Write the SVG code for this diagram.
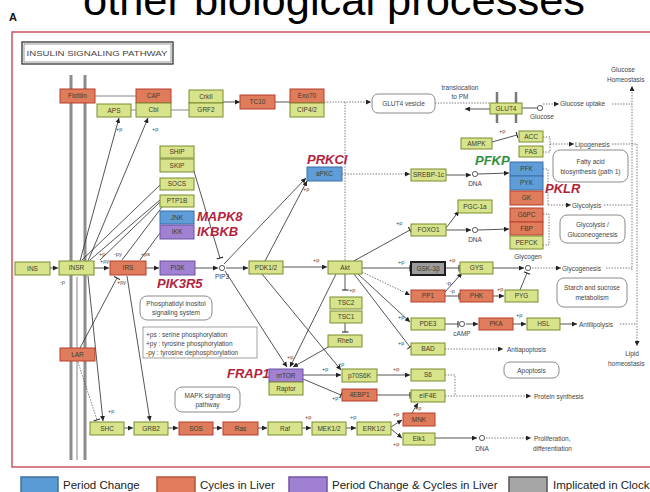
<svg xmlns="http://www.w3.org/2000/svg" width="650" height="492" viewBox="0 0 650 492">
<defs>
<style>
.g{fill:#d8e38b;stroke:#7b8b2e;stroke-width:1}
.o{fill:#df7c5c;stroke:#b83e2c;stroke-width:1}
.b{fill:#5f9dd9;stroke:#3c6fa8;stroke-width:1}
.p{fill:#a081d2;stroke:#6d53a5;stroke-width:1}
.k{fill:#9c9c9c;stroke:#1e1e1e;stroke-width:2}
.r{fill:#fff;stroke:#8a8a8a;stroke-width:1}
text{font-family:"Liberation Sans",Arial,sans-serif}
.t{font-size:6.5px;fill:#3d3d2c;text-anchor:middle}
.s{font-size:5.5px;fill:#444}
.a{font-size:6.5px;fill:#444}
.am{font-size:6.5px;fill:#444;text-anchor:middle}
.red{font-size:13px;font-weight:bold;font-style:italic;fill:#b3243c}
.c{stroke:#2a2a2a;stroke-width:0.8;fill:none}
.d{stroke:#555;stroke-width:0.8;fill:none;stroke-dasharray:1.4 1.4}
.m{stroke:#8c8c8c;stroke-width:3;fill:none}
.ci{fill:#fff;stroke:#333;stroke-width:0.8}
.lg{font-size:11.5px;fill:#222}
</style>
<marker id="a" viewBox="0 0 6 6" refX="6" refY="3" markerWidth="5" markerHeight="5" markerUnits="userSpaceOnUse" orient="auto"><path d="M0,0L6,3L0,6z" fill="#222"/></marker>
<marker id="t" viewBox="0 0 2 8" refX="1" refY="4" markerWidth="2" markerHeight="7" markerUnits="userSpaceOnUse" orient="auto"><path d="M1,0V8" stroke="#222" stroke-width="1.2"/></marker>
</defs>
<rect x="0" y="0" width="650" height="492" fill="#fff"/>
<text x="83" y="14.5" font-size="43" fill="#000" textLength="502" lengthAdjust="spacingAndGlyphs">other biological processes</text>
<text x="9" y="21" font-size="11" font-weight="bold" fill="#111">A</text>
<rect x="12" y="32" width="660" height="435" fill="none" stroke="#c9575f" stroke-width="1.5"/>
<g id="title-box">
<rect x="22" y="42" width="151" height="22" fill="#fff" stroke="#222" stroke-width="1.2"/>
<rect x="24" y="44" width="147" height="18" fill="none" stroke="#555" stroke-width="0.6"/>
<text x="26.5" y="56" font-size="8" fill="#444" textLength="141" lengthAdjust="spacingAndGlyphs">INSULIN SIGNALING PATHWAY</text>
</g>
<g id="membrane">
<line class="m" x1="71" y1="75" x2="71" y2="460"/>
<line class="m" x1="85" y1="75" x2="85" y2="460"/>
<line stroke="#999" stroke-width="1.2" x1="77" y1="277" x2="77" y2="460"/>
<line stroke="#7a7a7a" stroke-width="2.5" x1="497" y1="92" x2="497" y2="123"/>
<line stroke="#7a7a7a" stroke-width="2.5" x1="516" y1="92" x2="516" y2="123"/>
</g>
<g id="connectors">
<line stroke="#888" stroke-width="1" x1="95" y1="96" x2="136" y2="96"/>
<line stroke="#888" stroke-width="1" x1="131" y1="110" x2="136" y2="110"/>
<line stroke="#888" stroke-width="1" x1="171" y1="110" x2="189" y2="110"/>
<line class="c" x1="223" y1="102" x2="240" y2="102" marker-end="url(#a)"/>
<line class="c" x1="275" y1="102" x2="290" y2="102"/>
<line class="d" x1="324" y1="102" x2="371" y2="102" marker-end="url(#a)"/>
<line class="d" x1="345" y1="102" x2="345" y2="261"/>
<line class="d" x1="435" y1="103" x2="489" y2="103"/>
<line class="c" x1="490" y1="109" x2="465" y2="109" marker-end="url(#a)"/>
<line class="c" x1="522" y1="108" x2="537" y2="108"/>
<line class="d" x1="543" y1="104" x2="559" y2="104" marker-end="url(#a)"/>
<line class="d" x1="612" y1="104" x2="632" y2="104"/>
<line class="d" x1="632" y1="270" x2="632" y2="86" marker-end="url(#a)"/>
<line class="c" x1="492" y1="142" x2="517" y2="135" marker-end="url(#t)"/>
<polyline class="d" points="543,137 550,137 550,152 543,152"/>
<line class="d" x1="550" y1="144" x2="574" y2="144" marker-end="url(#a)"/>
<line class="d" x1="612" y1="144" x2="637" y2="144"/>
<line class="d" x1="637" y1="144" x2="637" y2="346" marker-end="url(#a)"/>
<line class="d" x1="342" y1="174" x2="410" y2="174" marker-end="url(#a)"/>
<line class="c" x1="446" y1="175" x2="471" y2="175" marker-end="url(#a)"/>
<line class="c" x1="478" y1="174" x2="509" y2="173" marker-end="url(#a)"/>
<polyline class="d" points="543,169 548,169 548,205"/>
<line class="d" x1="548" y1="205" x2="571" y2="205" marker-end="url(#a)"/>
<line class="d" x1="604" y1="205" x2="632" y2="205"/>
<polyline class="d" points="543,214 549,214 549,245 543,245"/>
<line class="c" x1="446" y1="230" x2="471" y2="230" marker-end="url(#a)"/>
<line class="c" x1="478" y1="230" x2="509" y2="229" marker-end="url(#a)"/>
<line class="c" x1="446" y1="228" x2="459" y2="211" marker-end="url(#a)"/>
<line class="c" x1="352" y1="262" x2="410" y2="230" marker-end="url(#t)"/>
<line class="c" x1="283" y1="267" x2="327" y2="267" marker-end="url(#a)"/>
<line class="c" x1="362" y1="268" x2="410" y2="268" marker-end="url(#t)"/>
<line class="c" x1="445" y1="268" x2="459" y2="268" marker-end="url(#t)"/>
<line class="d" x1="362" y1="272" x2="410" y2="295" marker-end="url(#a)"/>
<line class="c" x1="445" y1="292" x2="462" y2="273" marker-end="url(#a)"/>
<line class="c" x1="445" y1="296" x2="459" y2="296" marker-end="url(#t)"/>
<line class="c" x1="493" y1="296" x2="504" y2="296" marker-end="url(#a)"/>
<line class="c" x1="520" y1="290" x2="527" y2="273" marker-end="url(#t)"/>
<line class="c" x1="493" y1="268" x2="524" y2="268" marker-end="url(#a)"/>
<line class="d" x1="532" y1="268" x2="561" y2="268" marker-end="url(#a)"/>
<line class="d" x1="606" y1="268" x2="632" y2="268"/>
<line class="c" x1="358" y1="274" x2="410" y2="322" marker-end="url(#a)"/>
<line class="c" x1="354" y1="274" x2="410" y2="347" marker-end="url(#t)"/>
<line class="c" x1="445" y1="324" x2="458" y2="324" marker-end="url(#t)"/>
<line class="c" x1="466" y1="324" x2="478" y2="324" marker-end="url(#a)"/>
<line class="c" x1="513" y1="324" x2="526" y2="324" marker-end="url(#a)"/>
<line class="c" x1="560" y1="324" x2="577" y2="324" marker-end="url(#a)"/>
<line class="d" x1="620" y1="324" x2="637" y2="324"/>
<line class="d" x1="445" y1="349" x2="503" y2="349" marker-end="url(#a)"/>
<line class="c" x1="345" y1="274" x2="345" y2="290" marker-end="url(#t)"/>
<line class="c" x1="345" y1="323" x2="345" y2="332" marker-end="url(#t)"/>
<line class="c" x1="330" y1="346" x2="293" y2="367" marker-end="url(#a)"/>
<line class="c" x1="336" y1="274" x2="290" y2="367" marker-end="url(#a)"/>
<line class="c" x1="225" y1="271" x2="287" y2="367" marker-end="url(#a)"/>
<line class="c" x1="262" y1="274" x2="341" y2="370" marker-end="url(#a)"/>
<line class="c" x1="303" y1="375" x2="341" y2="375" marker-end="url(#a)"/>
<line class="c" x1="303" y1="379" x2="341" y2="395" marker-end="url(#t)"/>
<line class="c" x1="377" y1="375" x2="410" y2="375" marker-end="url(#a)"/>
<line class="c" x1="377" y1="395" x2="410" y2="395" marker-end="url(#t)"/>
<polyline class="d" points="445,375 455,375 455,396"/>
<line class="d" x1="445" y1="396" x2="531" y2="396" marker-end="url(#a)"/>
<line class="c" x1="412" y1="413" x2="418" y2="403" marker-end="url(#a)"/>
<line class="c" x1="391" y1="427" x2="402" y2="420" marker-end="url(#a)"/>
<line class="c" x1="391" y1="429" x2="402" y2="438" marker-end="url(#a)"/>
<line class="c" x1="435" y1="438" x2="477" y2="438" marker-end="url(#a)"/>
<line class="d" x1="486" y1="438" x2="531" y2="438" marker-end="url(#a)"/>
<line class="c" x1="124" y1="428" x2="133" y2="428" marker-end="url(#a)"/>
<line class="c" x1="168" y1="428" x2="178" y2="428" marker-end="url(#a)"/>
<line class="c" x1="213" y1="428" x2="222" y2="428" marker-end="url(#a)"/>
<line class="c" x1="258" y1="428" x2="267" y2="428" marker-end="url(#a)"/>
<line class="c" x1="302" y1="428" x2="311" y2="428" marker-end="url(#a)"/>
<line class="c" x1="346" y1="428" x2="356" y2="428" marker-end="url(#a)"/>
<line class="c" x1="50" y1="268" x2="58" y2="268" marker-end="url(#a)"/>
<line class="c" x1="94" y1="268" x2="109" y2="268" marker-end="url(#a)"/>
<line class="c" x1="146" y1="268" x2="159" y2="268" marker-end="url(#a)"/>
<line class="c" x1="195" y1="268" x2="218" y2="268" marker-end="url(#a)"/>
<line class="c" x1="226" y1="268" x2="248" y2="268" marker-end="url(#a)"/>
<line class="c" x1="224" y1="264" x2="306" y2="178" marker-end="url(#a)"/>
<line class="c" x1="265" y1="261" x2="307" y2="181" marker-end="url(#a)"/>
<line class="c" x1="193" y1="168" x2="220" y2="258" marker-end="url(#t)"/>
<line class="c" x1="80" y1="261" x2="119" y2="118" marker-end="url(#a)"/>
<line class="c" x1="88" y1="261" x2="148" y2="118" marker-end="url(#a)"/>
<line class="c" x1="160" y1="185" x2="82" y2="260"/>
<line class="c" x1="160" y1="200" x2="90" y2="260"/>
<line class="c" x1="160" y1="202" x2="100" y2="260"/>
<line class="c" x1="162" y1="207" x2="122" y2="260"/>
<line class="c" x1="160" y1="233" x2="140" y2="260"/>
<line class="c" x1="88" y1="276" x2="103" y2="421" marker-end="url(#a)"/>
<line class="c" x1="127" y1="276" x2="150" y2="421" marker-end="url(#a)"/>
<line class="c" x1="80" y1="348" x2="117" y2="278" marker-end="url(#t)"/>
<line class="d" x1="78" y1="362" x2="97" y2="420" marker-end="url(#t)"/>
</g>
<g id="labels">
<text class="s" x="116" y="131">+p</text>
<text class="s" x="152" y="131">+p</text>
<text class="s" x="499" y="133">+p</text>
<text class="s" x="303" y="191">+p</text>
<text class="s" x="396" y="225">+p</text>
<text class="s" x="313" y="262">+p</text>
<text class="s" x="398" y="264">+p</text>
<text class="s" x="449" y="262">+p</text>
<text class="s" x="446" y="285">-p</text>
<text class="s" x="450" y="293">-p</text>
<text class="s" x="497" y="291">+p</text>
<text class="s" x="349" y="292">+p</text>
<text class="s" x="398" y="319">+p</text>
<text class="s" x="398" y="345">+p</text>
<text class="s" x="516" y="317">+p</text>
<text class="s" x="287" y="359">+p</text>
<text class="s" x="338" y="366">+p</text>
<text class="s" x="322" y="371">+p</text>
<text class="s" x="393" y="371">+p</text>
<text class="s" x="332" y="400">+p</text>
<text class="s" x="415" y="410">+p</text>
<text class="s" x="393" y="416">+p</text>
<text class="s" x="393" y="446">+p</text>
<text class="s" x="305" y="419">+p</text>
<text class="s" x="350" y="419">+p</text>
<text class="s" x="108" y="413">+p</text>
<text class="s" x="99" y="256">+p</text>
<text class="s" x="100" y="263">+py</text>
<text class="s" x="114" y="256">-py</text>
<text class="s" x="141" y="256">+ps</text>
<text class="s" x="117" y="284">+py</text>
<text class="s" x="60" y="284">-p</text>
<text class="red" x="307" y="164">PRKCI</text>
<text class="red" x="197" y="221">MAPK8</text>
<text class="red" x="197" y="236">IKBKB</text>
<text class="red" x="157" y="288">PIK3R5</text>
<text class="red" x="545" y="193">PKLR</text>
<text class="red" x="227" y="378">FRAP1</text>
<text class="red" x="475" y="165" fill="#2f8d3c" style="fill:#2f8d3c">PFKP</text>
<text class="am" x="460" y="90">translocation</text>
<text class="am" x="460" y="99">to PM</text>
<text class="a" x="560" y="106">Glucose uptake</text>
<text class="am" x="542" y="119">Glucose</text>
<text class="am" x="623" y="72">Glucose</text>
<text class="a" x="607" y="82">Homeostasis</text>
<text class="a" x="575" y="146.5">Lipogenesis</text>
<text class="a" x="572" y="207.5">Glycolysis</text>
<text class="a" x="562" y="270.5">Glycogenesis</text>
<text class="a" x="579" y="326.5">Antilipolysis</text>
<text class="am" x="632" y="356">Lipid</text>
<text class="a" x="608" y="366">homeostasis</text>
<text class="a" x="507" y="351.5">Antiapoptosis</text>
<text class="a" x="534" y="398.5">Protein synthesis</text>
<text class="a" x="534" y="441">Proliferation,</text>
<text class="a" x="533" y="451">differentiation</text>
<text class="am" x="222" y="279">PIP3</text>
<text class="am" x="475" y="186">DNA</text>
<text class="am" x="475" y="242">DNA</text>
<text class="am" x="528" y="259">Glycogen</text>
<text class="am" x="462" y="336">cAMP</text>
<text class="am" x="482" y="451">DNA</text>
</g>
<g id="circles">
<circle class="ci" cx="222" cy="268" r="2.6"/>
<circle class="ci" cx="475" cy="174" r="2.6"/>
<circle class="ci" cx="475" cy="230" r="2.6"/>
<circle class="ci" cx="528" cy="268" r="2.6"/>
<circle class="ci" cx="540" cy="108" r="2.6"/>
<circle class="ci" cx="462" cy="324" r="2.6"/>
<circle class="ci" cx="482" cy="438" r="2.6"/>
</g>
<g id="boxes">
<g id="b-vesicle"><rect class="r" x="372" y="94" width="63" height="19" rx="6"/><text class="am" x="403.5" y="106">GLUT4 vesicle</text></g>
<g id="b-fatty"><rect class="r" x="553" y="150" width="75" height="32" rx="7"/><text class="am" x="590.5" y="164">Fatty acid</text><text class="am" x="590.5" y="174">biosynthesis (path 1)</text></g>
<g id="b-glyco"><rect class="r" x="560" y="215" width="65" height="28" rx="7"/><text class="am" x="592.5" y="227">Glycolysis /</text><text class="am" x="592.5" y="237">Gluconeogenesis</text></g>
<g id="b-starch"><rect class="r" x="557" y="278" width="70" height="29" rx="7"/><text class="am" x="592" y="290">Starch and sucrose</text><text class="am" x="592" y="300">metabolism</text></g>
<g id="b-pis"><rect class="r" x="140" y="296" width="72" height="24" rx="7"/><text class="am" x="176" y="306">Phosphatidyl inositol</text><text class="am" x="176" y="315">signaling system</text></g>
<g id="b-mapk"><rect class="r" x="175" y="387" width="65" height="25" rx="7"/><text class="am" x="207.5" y="398">MAPK signaling</text><text class="am" x="207.5" y="407">pathway</text></g>
<g id="b-apop"><rect class="r" x="504" y="362" width="55" height="16" rx="6"/><text class="am" x="531.5" y="372.5">Apoptosis</text></g>
<g id="b-note"><rect fill="#fff" stroke="#8a8a8a" stroke-width="0.8" x="143" y="327" width="114" height="31"/><text class="a" x="146" y="336.5" font-size="6">+ps : serine phosphorylation</text><text class="a" x="146" y="345.5" font-size="6">+py : tyrosine phosphorylation</text><text class="a" x="146" y="354.5" font-size="6">-py : tyrosine dephosphorylation</text></g>
</g>
<g id="nodes">
<g id="n-Flotilin"><rect class="o" x="60" y="89" width="35" height="14"/><text class="t" x="77.5" y="98.2">Flotilin</text></g>
<g id="n-CAP"><rect class="o" x="136" y="89" width="35" height="14"/><text class="t" x="153.5" y="98.2">CAP</text></g>
<g id="n-APS"><rect class="g" x="97" y="104" width="34" height="13"/><text class="t" x="114" y="112.7">APS</text></g>
<g id="n-Cbl"><rect class="g" x="136" y="103" width="35" height="14"/><text class="t" x="153.5" y="112.2">Cbl</text></g>
<g id="n-CrkII"><rect class="g" x="189" y="90" width="34" height="13"/><text class="t" x="206" y="98.7">CrkII</text></g>
<g id="n-GRF2"><rect class="g" x="189" y="103" width="34" height="14"/><text class="t" x="206" y="112.2">GRF2</text></g>
<g id="n-TC10"><rect class="o" x="240" y="95" width="35" height="14"/><text class="t" x="257.5" y="104.2">TC10</text></g>
<g id="n-Exo70"><rect class="o" x="290" y="89" width="34" height="14"/><text class="t" x="307" y="98.2">Exo70</text></g>
<g id="n-CIP4"><rect class="g" x="290" y="103" width="34" height="14"/><text class="t" x="307" y="112.2">CIP4/2</text></g>
<g id="n-GLUT4"><rect class="g" x="490" y="103" width="32" height="11"/><text class="t" x="506" y="110.7">GLUT4</text></g>
<g id="n-AMPK"><rect class="g" x="461" y="138" width="31" height="11"/><text class="t" x="476.5" y="145.7">AMPK</text></g>
<g id="n-ACC"><rect class="g" x="519" y="131" width="24" height="11"/><text class="t" x="531" y="138.7">ACC</text></g>
<g id="n-FAS"><rect class="g" x="519" y="146" width="24" height="11"/><text class="t" x="531" y="153.7">FAS</text></g>
<g id="n-SHIP"><rect class="g" x="160" y="146" width="34" height="12"/><text class="t" x="177" y="154.2">SHIP</text></g>
<g id="n-SKIP"><rect class="g" x="160" y="159" width="34" height="13"/><text class="t" x="177" y="167.7">SKIP</text></g>
<g id="n-SOCS"><rect class="g" x="160" y="178" width="34" height="12"/><text class="t" x="177" y="186.2">SOCS</text></g>
<g id="n-PTP1B"><rect class="g" x="160" y="195" width="34" height="12"/><text class="t" x="177" y="203.2">PTP1B</text></g>
<g id="n-JNK"><rect class="b" x="160" y="211" width="34" height="13"/><text class="t" x="177" y="219.7">JNK</text></g>
<g id="n-IKK"><rect class="p" x="160" y="225" width="34" height="14"/><text class="t" x="177" y="234.2">IKK</text></g>
<g id="n-aPKC"><rect class="b" x="307" y="167" width="35" height="14"/><text class="t" x="324.5" y="176.2">aPKC</text></g>
<g id="n-SREBP"><rect class="g" x="411" y="169" width="35" height="12"/><text class="t" x="428.5" y="177.2" font-size="5.8">SREBP-1c</text></g>
<g id="n-PFK"><rect class="b" x="510" y="162" width="33" height="14"/><text class="t" x="526.5" y="171.2">PFK</text></g>
<g id="n-PYK"><rect class="b" x="510" y="176" width="33" height="14"/><text class="t" x="526.5" y="185.2">PYK</text></g>
<g id="n-GK"><rect class="o" x="510" y="191" width="33" height="14"/><text class="t" x="526.5" y="200.2">GK</text></g>
<g id="n-G6PC"><rect class="o" x="510" y="208" width="33" height="14"/><text class="t" x="526.5" y="217.2">G6PC</text></g>
<g id="n-FBP"><rect class="o" x="510" y="222" width="33" height="13"/><text class="t" x="526.5" y="230.7">FBP</text></g>
<g id="n-PEPCK"><rect class="g" x="510" y="236" width="33" height="13"/><text class="t" x="526.5" y="244.7">PEPCK</text></g>
<g id="n-PGC"><rect class="g" x="458" y="200" width="34" height="13"/><text class="t" x="475" y="208.7">PGC-1a</text></g>
<g id="n-FOXO1"><rect class="g" x="411" y="224" width="35" height="12"/><text class="t" x="428.5" y="232.2">FOXO1</text></g>
<g id="n-INS"><rect class="g" x="15" y="262" width="35" height="13"/><text class="t" x="32.5" y="270.7">INS</text></g>
<g id="n-INSR"><rect class="g" x="59" y="261" width="35" height="14"/><text class="t" x="76.5" y="270.2">INSR</text></g>
<g id="n-IRS"><rect class="o" x="110" y="261" width="36" height="14"/><text class="t" x="128" y="270.2">IRS</text></g>
<g id="n-PI3K"><rect class="p" x="160" y="261" width="35" height="14"/><text class="t" x="177.5" y="270.2">PI3K</text></g>
<g id="n-PDK"><rect class="g" x="249" y="261" width="34" height="13"/><text class="t" x="266" y="269.7">PDK1/2</text></g>
<g id="n-Akt"><rect class="g" x="328" y="261" width="34" height="13"/><text class="t" x="345" y="269.7">Akt</text></g>
<g id="n-GSK"><rect class="k" x="411" y="262" width="34" height="13"/><text class="t" x="428" y="270.7">GSK-3β</text></g>
<g id="n-GYS"><rect class="g" x="460" y="262" width="33" height="12"/><text class="t" x="476.5" y="270.2">GYS</text></g>
<g id="n-PP1"><rect class="o" x="411" y="290" width="34" height="12"/><text class="t" x="428" y="298.2">PP1</text></g>
<g id="n-PHK"><rect class="o" x="460" y="290" width="33" height="12"/><text class="t" x="476.5" y="298.2">PHK</text></g>
<g id="n-PYG"><rect class="g" x="505" y="290" width="33" height="12"/><text class="t" x="521.5" y="298.2">PYG</text></g>
<g id="n-TSC2"><rect class="g" x="330" y="297" width="32" height="12"/><text class="t" x="346" y="305.2">TSC2</text></g>
<g id="n-TSC1"><rect class="g" x="330" y="311" width="32" height="12"/><text class="t" x="346" y="319.2">TSC1</text></g>
<g id="n-PDE3"><rect class="g" x="411" y="318" width="34" height="12"/><text class="t" x="428" y="326.2">PDE3</text></g>
<g id="n-PKA"><rect class="o" x="479" y="318" width="34" height="12"/><text class="t" x="496" y="326.2">PKA</text></g>
<g id="n-HSL"><rect class="g" x="527" y="318" width="33" height="12"/><text class="t" x="543.5" y="326.2">HSL</text></g>
<g id="n-Rheb"><rect class="g" x="328" y="335" width="34" height="12"/><text class="t" x="345" y="343.2">Rheb</text></g>
<g id="n-LAR"><rect class="o" x="60" y="348" width="35" height="13"/><text class="t" x="77.5" y="356.7">LAR</text></g>
<g id="n-BAD"><rect class="g" x="411" y="343" width="34" height="12"/><text class="t" x="428" y="351.2">BAD</text></g>
<g id="n-mTOR"><rect class="p" x="269" y="369" width="34" height="13"/><text class="t" x="286" y="377.7">mTOR</text></g>
<g id="n-Raptor"><rect class="g" x="269" y="382" width="34" height="13"/><text class="t" x="286" y="390.7">Raptor</text></g>
<g id="n-p70S6K"><rect class="g" x="342" y="369" width="35" height="13"/><text class="t" x="359.5" y="377.7">p70S6K</text></g>
<g id="n-S6"><rect class="g" x="411" y="369" width="34" height="12"/><text class="t" x="428" y="377.2">S6</text></g>
<g id="n-4EBP1"><rect class="o" x="342" y="389" width="35" height="12"/><text class="t" x="359.5" y="397.2">4EBP1</text></g>
<g id="n-eIF4E"><rect class="g" x="411" y="390" width="34" height="12"/><text class="t" x="428" y="398.2">eIF4E</text></g>
<g id="n-MNK"><rect class="o" x="403" y="413" width="32" height="13"/><text class="t" x="419" y="421.7">MNK</text></g>
<g id="n-Elk1"><rect class="g" x="403" y="433" width="32" height="12"/><text class="t" x="419" y="441.2">Elk1</text></g>
<g id="n-SHC"><rect class="g" x="90" y="422" width="34" height="13"/><text class="t" x="107" y="430.7">SHC</text></g>
<g id="n-GRB2"><rect class="g" x="134" y="422" width="34" height="13"/><text class="t" x="151" y="430.7">GRB2</text></g>
<g id="n-SOS"><rect class="o" x="179" y="422" width="34" height="13"/><text class="t" x="196" y="430.7">SOS</text></g>
<g id="n-Ras"><rect class="o" x="223" y="422" width="35" height="13"/><text class="t" x="240.5" y="430.7">Ras</text></g>
<g id="n-Raf"><rect class="g" x="268" y="422" width="34" height="13"/><text class="t" x="285" y="430.7">Raf</text></g>
<g id="n-MEK"><rect class="g" x="312" y="422" width="34" height="13"/><text class="t" x="329" y="430.7">MEK1/2</text></g>
<g id="n-ERK"><rect class="g" x="357" y="422" width="34" height="13"/><text class="t" x="374" y="430.7">ERK1/2</text></g>
</g>
<g id="legend">
<rect x="21" y="477" width="37" height="17" fill="#5b9bd5" stroke="#41719c" stroke-width="1.5"/>
<text class="lg" x="63" y="489">Period Change</text>
<rect x="157" y="477" width="38" height="17" fill="#e07b5c" stroke="#b5553a" stroke-width="1.5"/>
<text class="lg" x="200" y="489">Cycles in Liver</text>
<rect x="289" y="477" width="38" height="17" fill="#a080d2" stroke="#7256a6" stroke-width="1.5"/>
<text class="lg" x="332" y="489">Period Change &amp; Cycles in Liver</text>
<rect x="509" y="477" width="38" height="17" fill="#a6a6a6" stroke="#555" stroke-width="1.5"/>
<text class="lg" x="553" y="489">Implicated in Clock</text>
</g>
</svg>
